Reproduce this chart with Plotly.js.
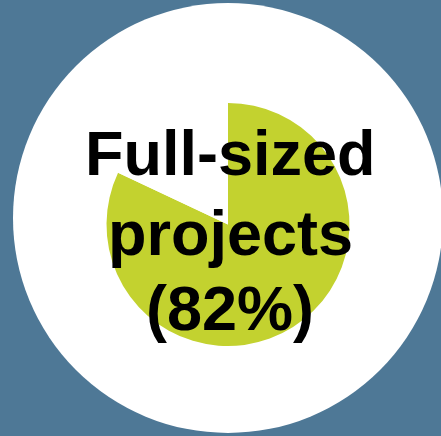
<!DOCTYPE html>
<html>
<head>
<meta charset="utf-8">
<script src="https://cdn.plot.ly/plotly-3.0.1.min.js"></script>
<style>
html,body{margin:0;padding:0;background:#4e7896;}
#chart{width:441px;height:436px;}
</style>
</head>
<body>
<div id="chart"></div>
<script>
const categories = ["Full-sized projects", "Other"];
const shares = [82, 18];
const sliceColors = ["#c3d22f", "#ffffff"];
const labelLines = ["Full-sized", "projects", "(82%)"];

const W = 441, H = 436;
const px = x => x / W;
const py = y => (H - y) / H;

const trace = {
  type: "pie",
  labels: categories,
  values: shares,
  sort: false,
  direction: "clockwise",
  rotation: 0,
  textinfo: "none",
  hoverinfo: "label+percent",
  marker: {colors: sliceColors, line: {width: 0}},
  showlegend: false,
  domain: {x: [px(228 - 121.5), px(228 + 121.5)], y: [py(224.5 + 121.5), py(224.5 - 121.5)]}
};

const lineY = [153, 233, 308];
const annotations = labelLines.map((t, i) => ({
  text: "<b>" + t + "</b>",
  x: px(230.5), y: py(lineY[i]),
  xref: "paper", yref: "paper",
  xanchor: "center", yanchor: "middle",
  showarrow: false,
  font: {family: "Liberation Sans, Arial, sans-serif", size: 63, color: "#000000"}
}));

const layout = {
  width: W, height: H,
  margin: {l: 0, r: 0, t: 0, b: 0},
  paper_bgcolor: "#4e7896",
  plot_bgcolor: "rgba(0,0,0,0)",
  shapes: [{
    type: "circle", xref: "paper", yref: "paper",
    x0: px(13), x1: px(443), y0: py(433), y1: py(3),
    fillcolor: "#ffffff", line: {width: 0}, layer: "below"
  }],
  annotations: annotations
};

Plotly.newPlot("chart", [trace], layout, {displayModeBar: false, staticPlot: true});
</script>
</body>
</html>
